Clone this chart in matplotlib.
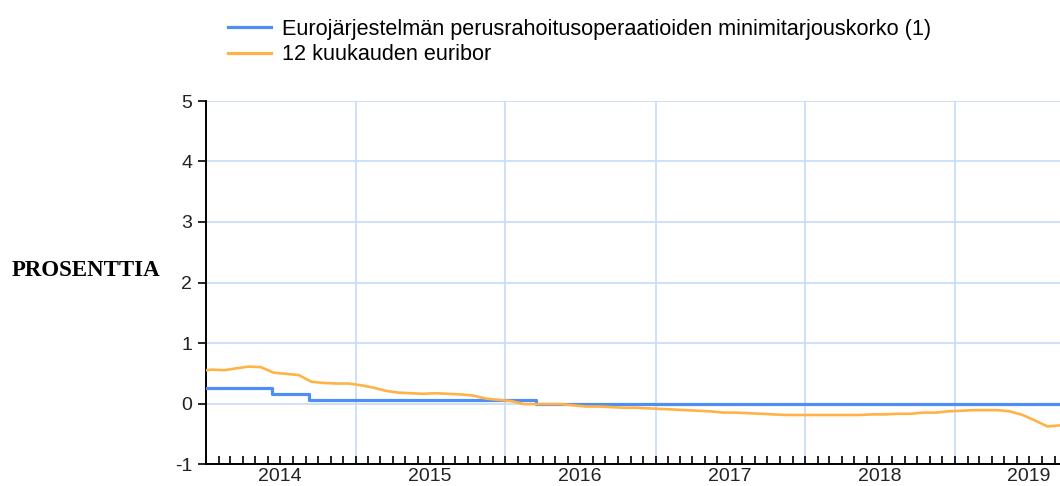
import matplotlib
matplotlib.use('Agg')
import matplotlib.pyplot as plt
import matplotlib.dates as mdates
from matplotlib.ticker import FuncFormatter
import numpy as np
import pandas as pd

# ECB main refinancing rate (step changes)
mro_dates = pd.to_datetime(['2014-01-01', '2014-06-11', '2014-09-10', '2016-03-16', '2019-10-10'])
mro_rate = [0.25, 0.15, 0.05, 0.00, 0.00]

# 12 month euribor, monthly values
eur_dates = pd.to_datetime(['2014-01-01'] + [f'{y}-{m:02d}-15' for y in range(2014, 2020)
                                             for m in range(1, 13)][:-2])
eur_rate = [0.55,
            0.56, 0.55, 0.58, 0.61, 0.60, 0.51, 0.49, 0.47, 0.36, 0.34, 0.33, 0.33,
            0.30, 0.26, 0.21, 0.18, 0.17, 0.16, 0.17, 0.16, 0.15, 0.13, 0.08, 0.06,
            0.04, -0.01, -0.01, -0.01, -0.01, -0.03, -0.05, -0.05, -0.06, -0.07, -0.07, -0.08,
            -0.09, -0.10, -0.11, -0.12, -0.13, -0.15, -0.15, -0.16, -0.17, -0.18, -0.19, -0.19,
            -0.19, -0.19, -0.19, -0.19, -0.19, -0.18, -0.18, -0.17, -0.17, -0.15, -0.15, -0.13,
            -0.12, -0.11, -0.11, -0.11, -0.13, -0.19, -0.28, -0.38, -0.36, -0.33]

labels = ['Eurojärjestelmän perusrahoitusoperaatioiden minimitarjouskorko (1)',
          '12 kuukauden euribor']

blue = '#4f8ff5'
orange = '#ffb347'
grid = '#c6dcfa'

plt.rcParams['font.family'] = ['Liberation Sans', 'DejaVu Sans']
plt.rcParams['axes.unicode_minus'] = False

fig = plt.figure(figsize=(10.6, 4.86), dpi=100)
ax = fig.add_axes([206 / 1060, 1 - 464 / 486, 1 - 206 / 1060 + 0.01, (464 - 101) / 486])

l1, = ax.plot(mro_dates, mro_rate, drawstyle='steps-post', color=blue, lw=2.3, zorder=3)
l2, = ax.plot(eur_dates, eur_rate, color=orange, lw=1.9, zorder=4)

ax.set_ylim(-1, 5)
ax.set_yticks(range(-1, 6))
ax.set_xlim(pd.Timestamp('2014-01-01'), pd.Timestamp('2019-10-10'))

ax.xaxis.set_major_locator(mdates.YearLocator())
ax.xaxis.set_major_formatter(FuncFormatter(lambda x, pos: ''))
ax.xaxis.set_minor_locator(mdates.MonthLocator())
ax.xaxis.set_minor_formatter(FuncFormatter(
    lambda x, pos: str(mdates.num2date(x).year) if mdates.num2date(x).month == 7 else ''))
ax.tick_params(axis='x', which='both', direction='in', length=6, width=1.2, color='black',
               labelsize=14, labelcolor='#222222', pad=3)

ax.tick_params(axis='y', direction='out', length=6, width=1.2, labelsize=14,
               labelcolor='#222222', pad=4)

ax.grid(True, which='major', color=grid, lw=1.2)
ax.set_axisbelow(True)
for s in ['top', 'right']:
    ax.spines[s].set_visible(False)
for s in ['left', 'bottom']:
    ax.spines[s].set_linewidth(1.4)

fig.text(12 / 1060, 1 - 270 / 486, 'PROSENTTIA', family='Liberation Serif', weight='bold',
         fontsize=16.5, va='center', ha='left')

leg = fig.legend([l1, l2], labels, loc='upper left', bbox_to_anchor=(228 / 1060, 1 - 19 / 486),
                 frameon=False, fontsize=15.6, handlelength=2.0, handletextpad=0.5,
                 labelspacing=0.2, borderaxespad=0, borderpad=0)
for h in leg.legend_handles:
    h.set_linewidth(2.3)

fig.savefig('out.png', dpi=100)
